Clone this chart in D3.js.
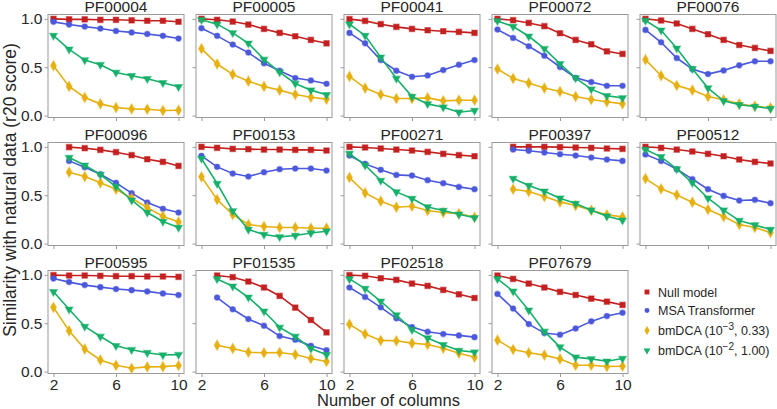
<!DOCTYPE html>
<html lang="en">
<head>
<meta charset="utf-8" />
<script src="https://d3js.org/d3.v7.min.js"></script>
<style>
  html, body { margin: 0; padding: 0; background: #fff; }
  svg { display: block; font-family: "Liberation Sans", Arial, sans-serif; }
</style>
</head>
<body>
<svg id="canvas" width="777" height="409"></svg>
<script>
// protein families, one panel each
var families = ["PF00004", "PF00005", "PF00041", "PF00072", "PF00076",
                "PF00096", "PF00153", "PF00271", "PF00397", "PF00512",
                "PF00595", "PF01535", "PF02518", "PF07679"];
// first number of columns shown for each family (series run up to 10)
var firstCol = [2, 2, 2, 2, 2, 3, 2, 2, 3, 2, 2, 3, 2, 2];

var nullModel = [
  [1.00, 0.995, 0.995, 0.99, 0.99, 0.985, 0.98, 0.98, 0.97],
  [1.00, 0.99, 0.972, 0.941, 0.896, 0.855, 0.82, 0.782, 0.747],
  [0.997, 0.979, 0.945, 0.917, 0.896, 0.882, 0.872, 0.865, 0.855],
  [1.00, 0.986, 0.958, 0.924, 0.851, 0.782, 0.737, 0.664, 0.637],
  [1.00, 0.983, 0.952, 0.896, 0.841, 0.782, 0.73, 0.699, 0.668],
  [0.997, 0.986, 0.969, 0.945, 0.914, 0.872, 0.845, 0.803],
  [1.00, 0.99, 0.979, 0.976, 0.972, 0.972, 0.969, 0.969, 0.962],
  [1.00, 0.993, 0.983, 0.972, 0.962, 0.948, 0.928, 0.914, 0.903],
  [1.00, 1.00, 1.00, 0.997, 0.993, 0.99, 0.983, 0.979],
  [1.00, 0.99, 0.972, 0.952, 0.928, 0.903, 0.869, 0.845, 0.828],
  [0.997, 0.993, 0.993, 0.99, 0.986, 0.986, 0.983, 0.983, 0.979],
  [0.993, 0.976, 0.931, 0.869, 0.782, 0.661, 0.533, 0.405],
  [0.997, 0.99, 0.965, 0.948, 0.91, 0.886, 0.844, 0.799, 0.761],
  [0.993, 0.958, 0.91, 0.869, 0.824, 0.792, 0.754, 0.723, 0.689]
];
var msaTransformer = [
  [0.969, 0.941, 0.92, 0.90, 0.875, 0.86, 0.844, 0.824, 0.796],
  [0.903, 0.824, 0.734, 0.651, 0.54, 0.464, 0.388, 0.363, 0.329],
  [0.855, 0.747, 0.574, 0.464, 0.401, 0.415, 0.471, 0.526, 0.574],
  [0.889, 0.803, 0.716, 0.619, 0.502, 0.391, 0.346, 0.308, 0.308],
  [0.886, 0.758, 0.595, 0.481, 0.429, 0.467, 0.519, 0.561, 0.561],
  [0.855, 0.79, 0.717, 0.628, 0.521, 0.424, 0.359, 0.321],
  [0.907, 0.793, 0.724, 0.693, 0.738, 0.769, 0.776, 0.776, 0.755],
  [0.91, 0.824, 0.762, 0.71, 0.703, 0.655, 0.624, 0.586, 0.562],
  [0.972, 0.959, 0.941, 0.924, 0.91, 0.89, 0.869, 0.855],
  [0.921, 0.855, 0.769, 0.666, 0.562, 0.493, 0.445, 0.452, 0.417],
  [0.962, 0.925, 0.894, 0.873, 0.853, 0.842, 0.829, 0.808, 0.791],
  [0.765, 0.644, 0.543, 0.474, 0.367, 0.329, 0.266, 0.221],
  [0.869, 0.772, 0.664, 0.55, 0.46, 0.412, 0.388, 0.374, 0.356],
  [0.803, 0.651, 0.491, 0.398, 0.381, 0.446, 0.519, 0.574, 0.609]
];
var bmdcaLow = [   // bmDCA (1e-3, 0.33)
  [0.516, 0.301, 0.187, 0.121, 0.083, 0.069, 0.066, 0.052, 0.055],
  [0.692, 0.533, 0.426, 0.356, 0.301, 0.263, 0.218, 0.19, 0.17],
  [0.405, 0.284, 0.218, 0.176, 0.176, 0.183, 0.152, 0.159, 0.159],
  [0.481, 0.384, 0.336, 0.284, 0.249, 0.197, 0.166, 0.142, 0.121],
  [0.578, 0.412, 0.311, 0.263, 0.197, 0.163, 0.121, 0.097, 0.08],
  [0.738, 0.693, 0.628, 0.562, 0.469, 0.372, 0.283, 0.224],
  [0.69, 0.455, 0.30, 0.197, 0.176, 0.166, 0.166, 0.159, 0.159],
  [0.683, 0.524, 0.438, 0.376, 0.386, 0.341, 0.321, 0.31, 0.272],
  [0.562, 0.538, 0.486, 0.431, 0.393, 0.345, 0.297, 0.276],
  [0.672, 0.566, 0.503, 0.428, 0.352, 0.279, 0.197, 0.166, 0.114],
  [0.664, 0.421, 0.233, 0.12, 0.065, 0.034, 0.048, 0.051, 0.062],
  [0.273, 0.239, 0.20, 0.194, 0.197, 0.176, 0.135, 0.104],
  [0.488, 0.388, 0.322, 0.318, 0.294, 0.28, 0.242, 0.19, 0.149],
  [0.325, 0.228, 0.194, 0.17, 0.131, 0.066, 0.066, 0.052, 0.055]
];
var bmdcaHigh = [  // bmDCA (1e-2, 1.00)
  [0.827, 0.685, 0.574, 0.526, 0.446, 0.412, 0.381, 0.339, 0.298],
  [0.99, 0.945, 0.855, 0.747, 0.581, 0.45, 0.332, 0.263, 0.215],
  [0.945, 0.827, 0.602, 0.384, 0.197, 0.121, 0.087, 0.035, 0.052],
  [0.979, 0.92, 0.82, 0.692, 0.536, 0.388, 0.273, 0.204, 0.183],
  [0.983, 0.882, 0.696, 0.484, 0.284, 0.152, 0.111, 0.093, 0.073],
  [0.89, 0.81, 0.714, 0.59, 0.448, 0.321, 0.228, 0.166],
  [0.879, 0.621, 0.338, 0.145, 0.093, 0.069, 0.083, 0.11, 0.128],
  [0.931, 0.81, 0.652, 0.534, 0.466, 0.379, 0.341, 0.303, 0.266],
  [0.672, 0.60, 0.541, 0.469, 0.414, 0.345, 0.283, 0.241],
  [0.972, 0.897, 0.772, 0.628, 0.469, 0.345, 0.238, 0.193, 0.145],
  [0.825, 0.644, 0.466, 0.363, 0.267, 0.226, 0.195, 0.171, 0.175],
  [0.958, 0.882, 0.768, 0.623, 0.457, 0.363, 0.239, 0.173],
  [0.958, 0.858, 0.727, 0.585, 0.433, 0.346, 0.277, 0.218, 0.201],
  [0.958, 0.83, 0.633, 0.415, 0.253, 0.149, 0.131, 0.107, 0.135]
];

var xTicks = [2, 6, 10];
var yTicks = [0, 0.5, 1];
var yTickLabels = ["0.0", "0.5", "1.0"];

var series = [
  {name: "Null model", data: nullModel, color: "#c3201f", symbol: d3.symbolSquare, size: 30, rot: 0},
  {name: "MSA Transformer", data: msaTransformer, color: "#4b58dc", symbol: d3.symbolCircle, size: 24, rot: 0},
  {name: "bmDCA low", data: bmdcaLow, color: "#e6b010", symbol: d3.symbolDiamond, size: 30, rot: 0},
  {name: "bmDCA high", data: bmdcaHigh, color: "#16b06a", symbol: d3.symbolTriangle, size: 26, rot: 180}
];

var svg = d3.select("#canvas");
var W = 136, H = 103, colStep = 148, rowStep = 128, left0 = 48, top0 = 14.5;
var textCol = "#262626", axisCol = "#9a9a9a";

var x = d3.scaleLinear().domain([1.65, 10.35]).range([0, W]);
var y = d3.scaleLinear().domain([-0.02, 1.045]).range([H, 0]);

families.forEach(function(fam, i) {
  var r = Math.floor(i / 5), c = i % 5;
  var g = svg.append("g").attr("transform", "translate(" + (left0 + c * colStep) + "," + (top0 + r * rowStep) + ")");

  g.append("rect").attr("width", W).attr("height", H)
    .attr("fill", "none").attr("stroke", axisCol).attr("stroke-width", 1);

  // only the bottom row gets x labels, only the first column y labels
  var xAxis = d3.axisBottom(x).tickValues(xTicks).tickSize(3.5).tickPadding(2)
    .tickFormat(r == 2 ? d3.format("d") : "");
  var gx = g.append("g").attr("transform", "translate(0," + H + ")").call(xAxis);
  var yAxis = d3.axisLeft(y).tickValues(yTicks).tickSize(3.5).tickPadding(2)
    .tickFormat(c == 0 ? function(d, k) { return yTickLabels[k]; } : "");
  var gy = g.append("g").call(yAxis);
  [gx, gy].forEach(function(a) {
    a.select(".domain").remove();
    a.selectAll(".tick line").attr("stroke", axisCol).attr("stroke-width", 1);
    a.selectAll(".tick text").attr("fill", textCol).attr("font-size", "15.5px")
      .attr("font-family", "Liberation Sans, Arial, sans-serif");
  });

  g.append("text").attr("x", W / 2).attr("y", -2.5).attr("text-anchor", "middle")
    .attr("font-size", "15.5px").attr("fill", textCol).text(fam);

  var line = d3.line().x(function(d) { return x(d[0]); }).y(function(d) { return y(d[1]); });
  series.forEach(function(s) {
    var pts = s.data[i].map(function(v, k) { return [firstCol[i] + k, v]; });
    g.append("path").attr("d", line(pts)).attr("fill", "none")
      .attr("stroke", s.color).attr("stroke-width", 1.6);
    g.selectAll(null).data(pts).enter().append("path")
      .attr("d", d3.symbol().type(s.symbol).size(s.size))
      .attr("transform", function(d) { return "translate(" + x(d[0]) + "," + y(d[1]) + ") rotate(" + s.rot + ")"; })
      .attr("fill", s.color).attr("stroke", s.color).attr("stroke-opacity", 0.45).attr("stroke-width", 1.2);
  });
});

// axis labels
svg.append("text").attr("x", 388.5).attr("y", 406).attr("text-anchor", "middle")
  .attr("font-size", "16.5px").attr("fill", textCol).text("Number of columns");
svg.append("text").attr("transform", "translate(16,190) rotate(-90)").attr("text-anchor", "middle")
  .attr("font-size", "17.5px").attr("fill", textCol).text("Similarity with natural data (r20 score)");

// legend
var legY = [292, 310.5, 330.5, 350.5];
var leg = svg.append("g");
series.forEach(function(s, k) {
  leg.append("path").attr("d", d3.symbol().type(s.symbol).size(s.size * 0.8))
    .attr("transform", "translate(647," + legY[k] + ") rotate(" + s.rot + ")")
    .attr("fill", s.color);
  var t = leg.append("text").attr("x", 658).attr("y", legY[k] + 4.5)
    .attr("font-size", "12.5px").attr("fill", textCol);
  if (k < 2) { t.text(s.name); return; }
  t.append("tspan").text("bmDCA (10");
  t.append("tspan").attr("dy", -5).attr("font-size", "10px").text(k == 2 ? "\u22123" : "\u22122");
  t.append("tspan").attr("dy", 5).text(k == 2 ? ", 0.33)" : ", 1.00)");
});
</script>
</body>
</html>
